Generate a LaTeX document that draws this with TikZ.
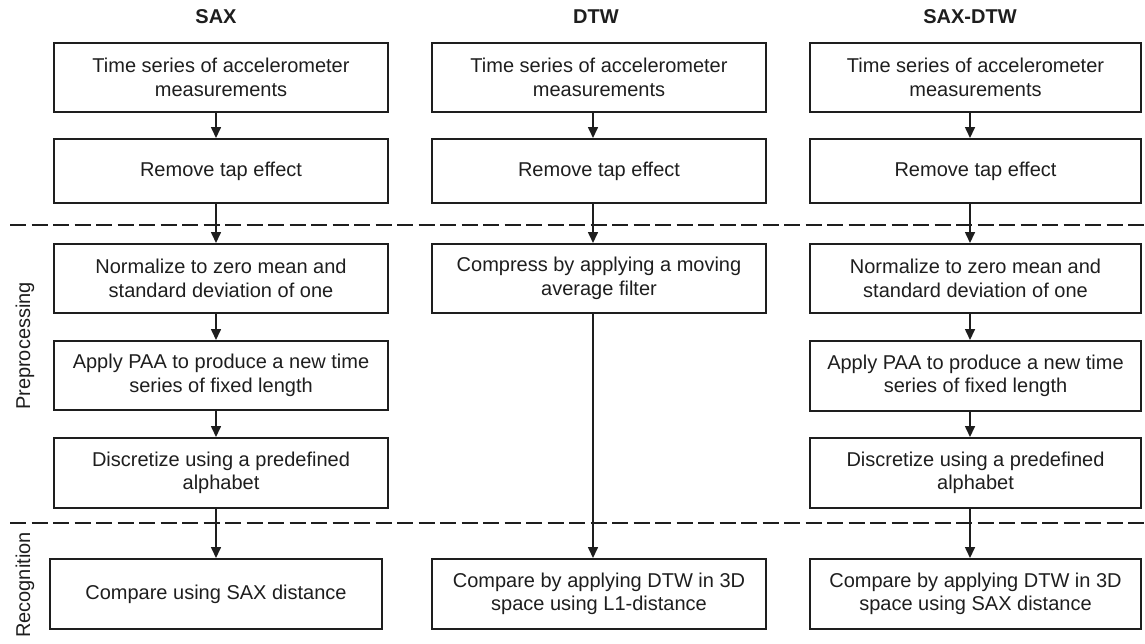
\documentclass[tikz,border=0pt]{standalone}
\usepackage{fontspec}
\setmainfont{Liberation Sans}
\usetikzlibrary{arrows.meta}
\definecolor{ink}{HTML}{1E1E1E}
\tikzset{
  stepbox/.style={draw=ink, line width=2pt, rectangle, inner sep=0pt,
    align=center, text=ink, font=\fontsize{20}{23.5}\selectfont},
  colhead/.style={text=ink, font=\fontsize{20}{23.5}\selectfont\bfseries},
  sidelabel/.style={text=ink, rotate=90, font=\fontsize{20}{23.5}\selectfont},
  flow/.style={draw=ink, line width=1.6pt, -{Triangle[length=11pt,width=10pt]}},
  phase/.style={draw=ink, line width=2pt, dash pattern=on 16pt off 5.5pt},
}
\begin{document}
\begin{tikzpicture}[x=1pt,y=-1pt]
\useasboundingbox (0,0) rectangle (1145,643);

% phase separators
\coordinate (sepA) at (10,225);
\coordinate (sepB) at (10,523);
\draw[phase] (sepA) -- (sepA -| 1145,0);
\draw[phase] (sepB) -- (sepB -| 1145,0);

% axes of the three flows
\coordinate (ax1) at (216,0);
\coordinate (ax2) at (593,0);
\coordinate (ax3) at (970,0);

% column titles
\node[colhead] (h1) at (216,17) {SAX};
\node[colhead] (h2) at (596,17) {DTW};
\node[colhead] (h3) at (970,17) {SAX-DTW};

% phase labels
\node[sidelabel] (pre) at (25,346) {Preprocessing};
\node[sidelabel] (rec) at (25,585) {Recognition};

% SAX column
\node[stepbox, minimum width=334pt, minimum height=69pt] (a1) at (221,77.5) {Time series of accelerometer\\measurements};
\node[stepbox, minimum width=334pt, minimum height=64pt] (a2) at (221,171) {Remove tap effect};
\node[stepbox, minimum width=334pt, minimum height=69pt] (a3) at (221,278.5) {Normalize to zero mean and\\standard deviation of one};
\node[stepbox, minimum width=334pt, minimum height=69pt] (a4) at (221,375.5) {Apply PAA to produce a new time\\series of fixed length};
\node[stepbox, minimum width=334pt, minimum height=70pt] (a5) at (221,473) {Discretize using a predefined\\alphabet};
\node[stepbox, minimum width=332pt, minimum height=70pt] (a6) at (216,594) {Compare using SAX distance};

% DTW column
\node[stepbox, minimum width=334pt, minimum height=69pt] (b1) at (599,77.5) {Time series of accelerometer\\measurements};
\node[stepbox, minimum width=334pt, minimum height=64pt] (b2) at (599,171) {Remove tap effect};
\node[stepbox, minimum width=334pt, minimum height=69pt] (b3) at (599,278.5) {Compress by applying a moving\\average filter};
\node[stepbox, minimum width=334pt, minimum height=70pt] (b6) at (599,594) {Compare by applying DTW in 3D\\space using L1-distance};

% SAX-DTW column
\node[stepbox, minimum width=331pt, minimum height=69pt] (c1) at (975.5,77.5) {Time series of accelerometer\\measurements};
\node[stepbox, minimum width=331pt, minimum height=64pt] (c2) at (975.5,171) {Remove tap effect};
\node[stepbox, minimum width=331pt, minimum height=69pt] (c3) at (975.5,278.5) {Normalize to zero mean and\\standard deviation of one};
\node[stepbox, minimum width=331pt, minimum height=70pt] (c4) at (975.5,376) {Apply PAA to produce a new time\\series of fixed length};
\node[stepbox, minimum width=331pt, minimum height=70pt] (c5) at (975.5,473) {Discretize using a predefined\\alphabet};
\node[stepbox, minimum width=331pt, minimum height=70pt] (c6) at (975.5,594) {Compare by applying DTW in 3D\\space using SAX distance};

% connectors
\foreach \u/\v in {a1/a2,a2/a3,a3/a4,a4/a5,a5/a6}
  \draw[flow] (\u.south -| ax1) -- (\v.north -| ax1);
\foreach \u/\v in {b1/b2,b2/b3,b3/b6}
  \draw[flow] (\u.south -| ax2) -- (\v.north -| ax2);
\foreach \u/\v in {c1/c2,c2/c3,c3/c4,c4/c5,c5/c6}
  \draw[flow] (\u.south -| ax3) -- (\v.north -| ax3);
\end{tikzpicture}
\end{document}
